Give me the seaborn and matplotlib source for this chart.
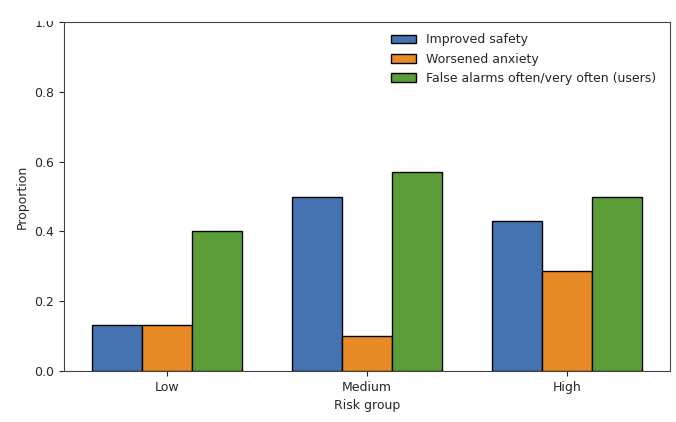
import matplotlib
matplotlib.use("Agg")
import matplotlib.pyplot as plt
from matplotlib.patches import Rectangle
import seaborn as sns
import pandas as pd

groups = ["Low", "Medium", "High"]
series = ["Improved safety", "Worsened anxiety", "False alarms often/very often (users)"]
improved = [0.133, 0.500, 0.429]
worsened = [0.133, 0.100, 0.286]
false_alarms = [0.400, 0.571, 0.500]
colors = ["#4573b1", "#e88a26", "#5b9e38"]

rows = []
for name, vals in zip(series, [improved, worsened, false_alarms]):
    for g, v in zip(groups, vals):
        rows.append({"Risk group": g, "Series": name, "Proportion": v})
df = pd.DataFrame(rows)

sns.set_style("ticks")
plt.rcParams["font.family"] = ["DejaVu Sans"]

fig = plt.figure(figsize=(6.76, 4.22), dpi=100)
ax = fig.add_axes([64/676, 1 - 371/422, (670 - 64)/676, (371 - 22)/422])

sns.barplot(data=df, x="Risk group", y="Proportion", hue="Series",
            order=groups, hue_order=series, palette=colors,
            width=0.75, edgecolor="black", linewidth=1.0, saturation=1,
            errorbar=None, ax=ax)

ax.set_ylim(0, 1.0)
ax.set_xlim(-0.5125, 2.5125)
ax.set_yticks([0.0, 0.2, 0.4, 0.6, 0.8, 1.0])
ax.set_xlabel("Risk group", fontsize=9)
ax.set_ylabel("Proportion", fontsize=9)
ax.tick_params(labelsize=9, length=3.5)
for s in ax.spines.values():
    s.set_visible(True)
    s.set_color("#444444")
ax.legend(loc="upper right", frameon=False, fontsize=9, title=None,
          bbox_to_anchor=(0.995, 1.0))

# the reference image is cropped just above the plot frame
fig.patches.append(Rectangle((0, 1 - 20.5/422), 1, 20.5/422, transform=fig.transFigure,
                             facecolor="white", edgecolor="none", zorder=10))

fig.savefig("out.png", dpi=100)
